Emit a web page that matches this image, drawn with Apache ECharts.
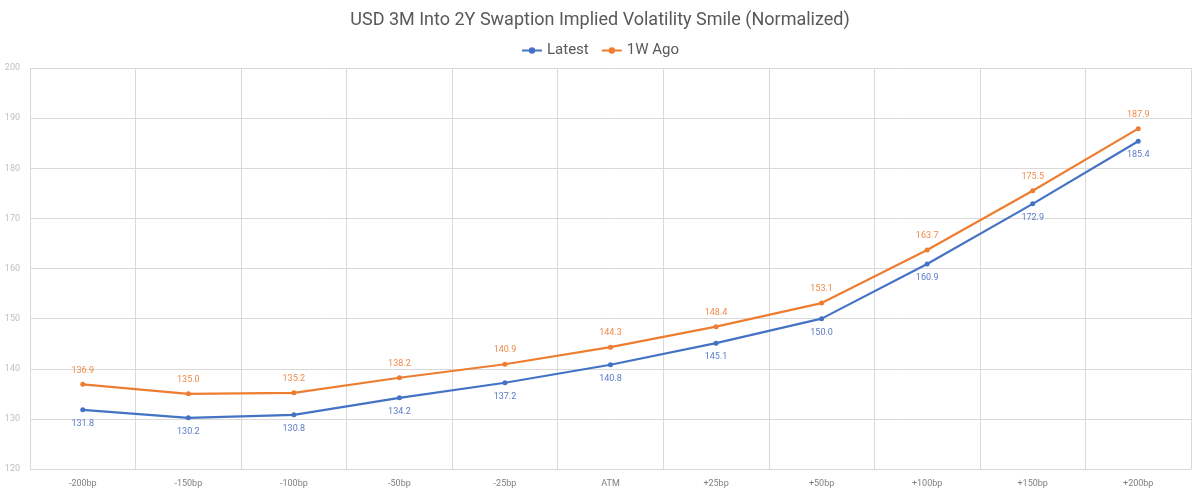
<!DOCTYPE html>
<html>
<head>
<meta charset="utf-8">
<script src="https://cdn.jsdelivr.net/npm/echarts@6/dist/echarts.min.js"></script>
<style>
html, body { margin: 0; padding: 0; background: #fff; }
#chart { width: 1200px; height: 493px; }
</style>
</head>
<body>
<div id="chart"></div>
<script>
var categories = ['-200bp', '-150bp', '-100bp', '-50bp', '-25bp', 'ATM', '+25bp', '+50bp', '+100bp', '+150bp', '+200bp'];
var latest = [131.8, 130.2, 130.8, 134.2, 137.2, 140.8, 145.1, 150.0, 160.9, 172.9, 185.4];
var weekAgo = [136.9, 135.0, 135.2, 138.2, 140.9, 144.3, 148.4, 153.1, 163.7, 175.5, 187.9];

var chart = echarts.init(document.getElementById('chart'));
var option = {
    animation: false,
    textStyle: { fontFamily: 'Roboto, sans-serif' },
    title: {
        text: 'USD 3M Into 2Y Swaption Implied Volatility Smile (Normalized)',
        left: 'center',
        top: 6,
        textStyle: { fontSize: 18, fontWeight: 'normal', color: '#595959' }
    },
    legend: {
        top: 38,
        left: 'center',
        itemWidth: 20,
        itemHeight: 8,
        itemGap: 12,
        textStyle: { fontSize: 15, color: '#595959' },
        data: ['Latest', '1W Ago']
    },
    grid: { left: 30, right: 9, top: 68, bottom: 24 },
    xAxis: {
        type: 'category',
        data: categories,
        boundaryGap: true,
        axisTick: { show: false },
        axisLine: { lineStyle: { color: '#d9d9d9' } },
        axisLabel: { color: '#7f7f7f', fontSize: 9, margin: 10 },
        splitLine: { show: true, interval: 0, lineStyle: { color: '#d9d9d9' } }
    },
    yAxis: {
        type: 'value',
        min: 120,
        max: 200,
        interval: 10,
        axisLabel: { color: '#bfbfbf', fontSize: 9, margin: 10 },
        splitLine: { lineStyle: { color: '#d9d9d9' } }
    },
    series: [
        {
            name: 'Latest',
            type: 'line',
            data: latest,
            symbol: 'circle',
            symbolSize: 5,
            itemStyle: { color: '#4472c4' },
            lineStyle: { width: 2.2, color: '#4472c4' },
            label: {
                show: true,
                position: 'bottom',
                distance: 7,
                color: '#5a7bc8',
                fontSize: 9,
                formatter: function (p) { return p.value.toFixed(1); }
            }
        },
        {
            name: '1W Ago',
            type: 'line',
            data: weekAgo,
            symbol: 'circle',
            symbolSize: 5,
            itemStyle: { color: '#ed7d31' },
            lineStyle: { width: 2.2, color: '#ed7d31' },
            label: {
                show: true,
                position: 'top',
                distance: 7,
                color: '#ef8a4a',
                fontSize: 9,
                formatter: function (p) { return p.value.toFixed(1); }
            }
        }
    ]
};
chart.setOption(option);
</script>
</body>
</html>
